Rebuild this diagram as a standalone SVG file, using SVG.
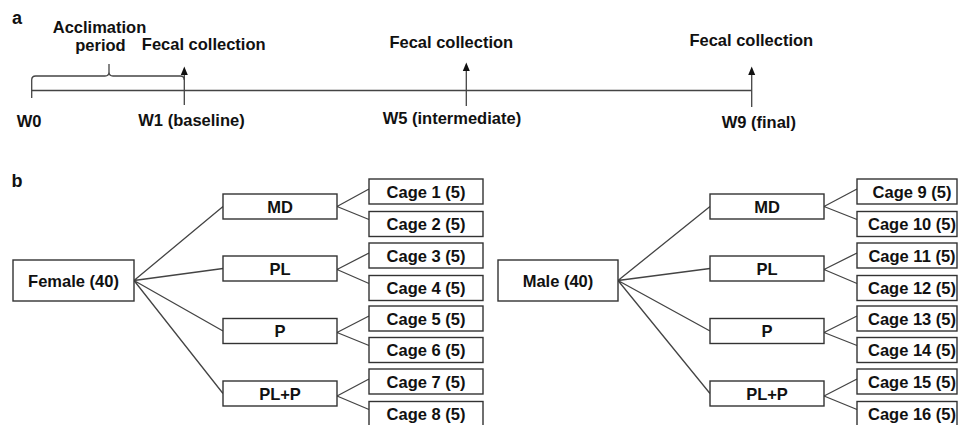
<svg xmlns="http://www.w3.org/2000/svg" width="958" height="425" viewBox="0 0 958 425">
<style>
text{font-family:"Liberation Sans",Arial,sans-serif;font-weight:bold;fill:#111;}
.t{font-size:16.5px;}
.m{text-anchor:middle;}
.lbl{font-size:18px;}
.box{fill:#fff;stroke:#333;stroke-width:1.4;}
.ln{fill:none;stroke:#444;stroke-width:1.3;}
.ah{fill:#111;}
</style>
<rect width="958" height="425" fill="#fff"/>
<g id="panel-a">
<text class="lbl" x="12" y="24">a</text>
<path class="ln" d="M31.7,90.5 H751.7"/>
<path class="ln" d="M31.7,98 V80 Q31.7,76 35.7,76 H105 Q109,76 109,72 V64 M109,72 Q109,76 113,76 H180.3 Q184.3,76 184.3,80"/>
<path class="ln" d="M184.3,105 V73"/>
<polygon class="ah" points="184.3,66.5 180.8,75 187.8,75"/>
<path class="ln" d="M466.3,106 V69"/>
<polygon class="ah" points="466.3,62.5 462.8,71 469.8,71"/>
<path class="ln" d="M751.7,107 V73"/>
<polygon class="ah" points="751.7,66.5 748.2,75 755.2,75"/>
<text class="t m" x="99.5" y="33">Acclimation</text>
<text class="t m" x="100.5" y="51">period</text>
<text class="t m" x="203.7" y="50">Fecal collection</text>
<text class="t m" x="451.3" y="47.5">Fecal collection</text>
<text class="t m" x="751.3" y="45.7">Fecal collection</text>
<text class="t" x="16.7" y="126.5">W0</text>
<text class="t" x="138.3" y="126">W1 (baseline)</text>
<text class="t" x="382.7" y="123.5">W5 (intermediate)</text>
<text class="t" x="721.7" y="128">W9 (final)</text>
</g>
<text class="lbl" x="11.5" y="187">b</text>
<g id="connectors">
<path class="ln" d="M134,280.5 L223,206.5 M134,280.5 L223,268.5 M134,280.5 L223,331 M134,280.5 L223,393.5"/>
<path class="ln" d="M337,206.5 L369,189 M337,206.5 L369,219.5"/>
<path class="ln" d="M337,269.5 L369,253 M337,269.5 L369,283.5"/>
<path class="ln" d="M337,332.5 L369,316 M337,332.5 L369,345.5"/>
<path class="ln" d="M337,396 L369,379 M337,396 L369,409.5"/>
<path class="ln" d="M618,280.5 L710,206.5 M618,280.5 L710,268.5 M618,280.5 L710,331 M618,280.5 L710,393.5"/>
<path class="ln" d="M824,206.5 L857,189 M824,206.5 L857,219.5"/>
<path class="ln" d="M824,269.5 L857,253 M824,269.5 L857,283.5"/>
<path class="ln" d="M824,332.5 L857,316 M824,332.5 L857,345.5"/>
<path class="ln" d="M824,396 L857,379 M824,396 L857,409.5"/>
</g>
<g id="female"><rect class="box" x="13" y="260" width="121" height="41"/><text class="t m" x="73.5" y="286.5">Female (40)</text></g>
<g id="f-md"><rect class="box" x="223" y="194" width="114" height="25"/><text class="t m" x="280" y="212.5">MD</text></g>
<g id="f-pl"><rect class="box" x="223" y="256" width="114" height="25"/><text class="t m" x="280" y="274.5">PL</text></g>
<g id="f-p"><rect class="box" x="223" y="318.5" width="114" height="25"/><text class="t m" x="280" y="337">P</text></g>
<g id="f-plp"><rect class="box" x="223" y="381" width="114" height="25"/><text class="t m" x="280" y="399.5">PL+P</text></g>
<g id="cage1"><rect class="box" x="369" y="179" width="114" height="25"/><text class="t m" x="426" y="197.5">Cage 1 (5)</text></g>
<g id="cage2"><rect class="box" x="369" y="211.5" width="114" height="25"/><text class="t m" x="426" y="230">Cage 2 (5)</text></g>
<g id="cage3"><rect class="box" x="369" y="243" width="114" height="25"/><text class="t m" x="426" y="261.5">Cage 3 (5)</text></g>
<g id="cage4"><rect class="box" x="369" y="275.5" width="114" height="25"/><text class="t m" x="426" y="294">Cage 4 (5)</text></g>
<g id="cage5"><rect class="box" x="369" y="306" width="114" height="25"/><text class="t m" x="426" y="324.5">Cage 5 (5)</text></g>
<g id="cage6"><rect class="box" x="369" y="337.5" width="114" height="25"/><text class="t m" x="426" y="356">Cage 6 (5)</text></g>
<g id="cage7"><rect class="box" x="369" y="369" width="114" height="25"/><text class="t m" x="426" y="387.5">Cage 7 (5)</text></g>
<g id="cage8"><rect class="box" x="369" y="401.5" width="114" height="25"/><text class="t m" x="426" y="420">Cage 8 (5)</text></g>
<g id="male"><rect class="box" x="498" y="260" width="120" height="41"/><text class="t m" x="558" y="286.5">Male (40)</text></g>
<g id="m-md"><rect class="box" x="710" y="194" width="114" height="25"/><text class="t m" x="767" y="212.5">MD</text></g>
<g id="m-pl"><rect class="box" x="710" y="256" width="114" height="25"/><text class="t m" x="767" y="274.5">PL</text></g>
<g id="m-p"><rect class="box" x="710" y="318.5" width="114" height="25"/><text class="t m" x="767" y="337">P</text></g>
<g id="m-plp"><rect class="box" x="710" y="381" width="114" height="25"/><text class="t m" x="767" y="399.5">PL+P</text></g>
<g id="cage9"><rect class="box" x="857" y="179" width="100" height="25"/><text class="t m" x="912" y="197.5">Cage 9 (5)</text></g>
<g id="cage10"><rect class="box" x="857" y="211.5" width="100" height="25"/><text class="t m" x="912" y="230">Cage 10 (5)</text></g>
<g id="cage11"><rect class="box" x="857" y="243" width="100" height="25"/><text class="t m" x="912" y="261.5">Cage 11 (5)</text></g>
<g id="cage12"><rect class="box" x="857" y="275.5" width="100" height="25"/><text class="t m" x="912" y="294">Cage 12 (5)</text></g>
<g id="cage13"><rect class="box" x="857" y="306" width="100" height="25"/><text class="t m" x="912" y="324.5">Cage 13 (5)</text></g>
<g id="cage14"><rect class="box" x="857" y="337.5" width="100" height="25"/><text class="t m" x="912" y="356">Cage 14 (5)</text></g>
<g id="cage15"><rect class="box" x="857" y="369" width="100" height="25"/><text class="t m" x="912" y="387.5">Cage 15 (5)</text></g>
<g id="cage16"><rect class="box" x="857" y="401.5" width="100" height="25"/><text class="t m" x="912" y="420">Cage 16 (5)</text></g>
</svg>
